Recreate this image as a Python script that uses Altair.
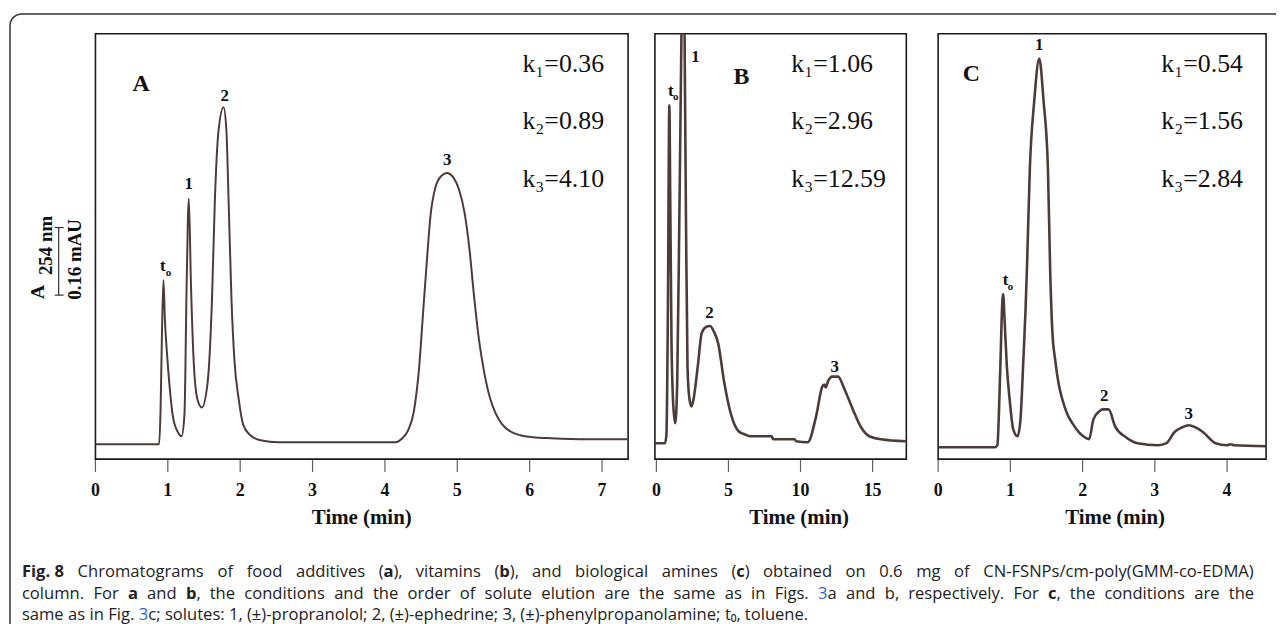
import altair as alt
import pandas as pd

SERIF = "Liberation Serif, Times New Roman, serif"
SANS = "Open Sans, Noto Sans, sans-serif"
INK = "#4b3c39"

# ---------------- data ----------------
# Panel A (food additives): time (min), detector signal (a.u.)
A_time = [0.00, 0.50, 0.88, 0.90, 0.92, 0.94, 0.96, 0.99, 1.02, 1.07, 1.14, 1.19,
          1.23, 1.26, 1.29, 1.32, 1.36, 1.41, 1.47,
          1.55, 1.61, 1.65, 1.70, 1.77, 1.81, 1.84, 1.88, 1.92, 1.98, 2.04, 2.14, 2.28, 2.53, 3.00, 3.60,
          4.15, 4.24, 4.32, 4.40, 4.47, 4.53, 4.58, 4.63, 4.70, 4.78, 4.86, 4.94, 5.02, 5.10, 5.17, 5.23,
          5.30, 5.37, 5.45, 5.53, 5.62, 5.73, 5.87, 6.05, 6.30, 6.80, 7.35]
A_signal = [15, 15, 15, 50, 130, 180, 140, 105, 77, 43, 27, 23,
            45, 175, 262, 175, 95, 60, 52,
            77, 160, 260, 330, 354, 330, 260, 160, 100, 60, 35, 24, 19, 17, 17, 17,
            17, 21, 29, 48, 90, 150, 200, 245, 274, 285, 288, 284, 272, 248, 210, 165,
            120, 88, 62, 46, 35, 28, 24, 22, 21, 20, 20]

# Panel B (vitamins)
B_time = [-0.10, 0.60, 0.70, 0.80, 0.90, 0.97, 1.05, 1.17, 1.31,
          1.45, 1.60, 1.75, 1.85, 1.95, 2.05, 2.16, 2.30, 2.44,
          2.60, 2.87, 3.15, 3.45, 3.72, 4.00, 4.28, 4.71, 5.14, 5.70, 6.12, 6.55, 8.00, 8.10, 9.60, 9.70, 10.50,
          11.08, 11.51, 11.65, 11.75, 11.90, 12.20, 12.60, 13.06, 13.63, 14.20, 14.77, 15.60, 17.30]
B_signal = [16, 16, 25, 150, 356, 250, 120, 55, 36,
            80, 250, 440, 600, 440, 250, 93, 60, 53,
            62, 93, 127, 133, 134, 128, 117, 77, 47, 28, 25, 23, 23, 20, 20, 18, 17,
            43, 73, 75, 72, 78, 83, 83, 70, 50, 32, 23, 20, 18]

# Panel C (biological amines)
C_time = [0.00, 0.50, 0.79, 0.82, 0.86, 0.89, 0.90, 0.92, 0.95, 0.99, 1.04, 1.10,
          1.14, 1.18, 1.21, 1.23, 1.27, 1.33, 1.40, 1.46, 1.52, 1.55, 1.58, 1.62, 1.67, 1.72, 1.79, 1.86, 1.95,
          2.03, 2.09,
          2.15, 2.23, 2.28, 2.36, 2.45, 2.60, 2.76, 3.05,
          3.16, 3.27, 3.38, 3.47, 3.56, 3.67, 3.84, 4.00, 4.05, 4.10, 4.54]
C_signal = [12, 12, 12, 14, 90, 160, 166, 140, 95, 60, 30, 23,
            40, 100, 150, 193, 293, 360, 403, 360, 293, 193, 130, 100, 75, 60, 45, 36, 27,
            22, 20,
            40, 48, 50, 50, 33, 22, 16, 14,
            16, 27, 32, 34, 32, 27, 16, 14, 15, 14, 13]

# axis ticks
A_ticks = [0, 1, 2, 3, 4, 5, 6, 7]
B_ticks = [0, 5, 10, 15]
C_ticks = [0, 1, 2, 3, 4]
X_title = "Time (min)"

# peak labels: (time, signal, text)
A_peaks = [(0.93, 194, "t"), (1.29, 277, "1"), (1.785, 365, "2"), (4.86, 301, "3")]
B_peaks = [(1.00, 370, "t"), (2.72, 405, "1"), (3.69, 147, "2"), (12.38, 93, "3")]
C_peaks = [(0.935, 180, "t"), (1.40, 417, "1"), (2.30, 63, "2"), (3.47, 45, "3")]
A_sub = [(1.01, 187, "o")]
B_sub = [(1.34, 364, "o")]
C_sub = [(1.00, 173, "o")]

# retention factors
A_k = ["k\u2081=0.36", "k\u2082=0.89", "k\u2083=4.10"]
B_k = ["k\u2081=1.06", "k\u2082=2.96", "k\u2083=12.59"]
C_k = ["k\u2081=0.54", "k\u2082=1.56", "k\u2083=2.84"]
K_levels = [398, 340, 282]
A_k_time, B_k_time, C_k_time = 5.90, 9.36, 3.09

# panel letters (time, signal)
A_letter = (0.63, 377, "A")
B_letter = (5.90, 384, "B")
C_letter = (0.46, 387, "C")

# where the axis titles sit along each time axis
A_title_t, B_title_t, C_title_t = 3.68, 9.9, 2.45

# caption runs: (text, style)  r = regular, b = bold, l = link (blue)
caption = [
    [("Fig.\u00a08", "b"), (" Chromatograms of food additives (", "r"), ("a", "b"), ("), vitamins (", "r"),
     ("b", "b"), ("), and biological amines (", "r"), ("c", "b"),
     (") obtained on 0.6 mg of CN-FSNPs/cm-poly(GMM-co-EDMA)", "r")],
    [("column. For ", "r"), ("a", "b"), (" and ", "r"), ("b", "b"),
     (", the conditions and the order of solute elution are the same as in Figs. ", "r"), ("3", "l"),
     ("a and b, respectively. For ", "r"), ("c", "b"), (", the conditions are the", "r")],
    [("same as in Fig. ", "r"), ("3", "l"),
     ("c; solutes: 1, (\u00b1)-propranolol; 2, (\u00b1)-ephedrine; 3, (\u00b1)-phenylpropanolamine; "
      "t\u2080, toluene.", "r")],
]

YMAX = 428

# ---------------- caption typesetting (justified like the figure) ----------------
CAP_SIZE = 16.7
_REG = {" ": 532, "(": 589, ")": 589, ",": 502, "-": 659, ".": 545, "/": 752, ":": 545, ";": 545,
        "\u00b1": 1171, "\u2080": 700,
        "A": 1296, "B": 1327, "C": 1292, "D": 1493, "E": 1139, "F": 1057, "G": 1491, "M": 1849,
        "N": 1544, "P": 1233, "S": 1124,
        "a": 1139, "b": 1255, "c": 975, "d": 1255, "e": 1149, "f": 694, "g": 1122, "h": 1257, "i": 518,
        "j": 518, "k": 1075, "l": 518, "m": 1905, "n": 1257, "o": 1237, "p": 1255, "q": 1255, "r": 836,
        "s": 977, "t": 723, "u": 1257, "v": 1026, "w": 1593, "x": 1073, "y": 1028, "z": 977}
_BOLD = {" ": 532, "\u00a0": 532, "F": 1140, "i": 631, "g": 1140, ".": 600, "8": 1171,
         "a": 1217, "b": 1296, "c": 1051}


def _w(s, style):
    tbl = _BOLD if style == "b" else _REG
    return sum(tbl.get(ch, 1171) for ch in s) / 2048 * CAP_SIZE


def typeset(lines, x0, x1, ys):
    rows = []
    for li, (runs, y) in enumerate(zip(lines, ys)):
        words, cur = [], []
        for text, style in runs:
            for ch in text:
                if ch == " ":
                    if cur:
                        words.append(cur)
                    cur = []
                elif cur and cur[-1][1] == style:
                    cur[-1][0] += ch
                else:
                    cur.append([ch, style])
        if cur:
            words.append(cur)
        widths = [sum(_w(t, s) for t, s in wd) for wd in words]
        last = li == len(lines) - 1
        gap = _w(" ", "r") if last else (x1 - x0 - sum(widths)) / (len(words) - 1)
        x = x0
        for wd, ww in zip(words, widths):
            xx = x
            for t, s in wd:
                rows.append({"px": xx, "py": y, "txt": t, "st": s})
                xx += _w(t, s)
            x += ww + gap
    return pd.DataFrame(rows)


def panel(time, signal, dom, rng, ticks, title_t, peaks, subs, ks, k_time, letter, lw, extra=()):
    xs = alt.Scale(domain=dom, range=rng, nice=False, zero=False)
    ys = alt.Scale(domain=[0, YMAX], nice=False, zero=False)

    def X(f):
        return alt.X(f, scale=xs, axis=None)

    def Y(f):
        return alt.Y(f, scale=ys, axis=None)

    df = pd.DataFrame({"t": time, "s": signal})
    frame = alt.Chart(pd.DataFrame({"x0": [dom[0]], "x1": [dom[1]], "y0": [0], "y1": [YMAX]})).mark_rect(
        fill="transparent", stroke="#1a1a1a", strokeWidth=1.6).encode(
        x=X("x0:Q"), x2="x1", y=Y("y0:Q"), y2="y1")
    trace = alt.Chart(df).mark_line(interpolate="monotone", color=INK, strokeWidth=lw, clip=True).encode(
        x=X("t:Q"), y=Y("s:Q"))
    td = pd.DataFrame({"v": ticks, "lab": [str(v) for v in ticks]})
    tick = alt.Chart(td).mark_rule(color="#5e5e5e", strokeWidth=1.2).encode(
        x=X("v:Q"), y=alt.value(429), y2=alt.value(441))
    tlab = alt.Chart(td).mark_text(font=SERIF, fontWeight="bold", fontSize=18, color="#111",
                                   baseline="middle").encode(
        x=X("v:Q"), y=alt.value(460), text="lab:N")
    ttl = alt.Chart(pd.DataFrame({"t": [title_t], "txt": [X_title]})).mark_text(
        font=SERIF, fontWeight="bold", fontSize=21, color="#111", baseline="middle").encode(
        x=X("t:Q"), y=alt.value(487), text="txt:N")
    pk = pd.DataFrame(peaks, columns=["t", "s", "txt"])
    plab = alt.Chart(pk).mark_text(font=SERIF, fontWeight="bold", fontSize=17, color="#111",
                                   baseline="middle").encode(x=X("t:Q"), y=Y("s:Q"), text="txt:N")
    sb = pd.DataFrame(subs, columns=["t", "s", "txt"])
    slab = alt.Chart(sb).mark_text(font=SERIF, fontWeight="bold", fontSize=11, color="#111",
                                   baseline="middle").encode(x=X("t:Q"), y=Y("s:Q"), text="txt:N")
    kd = pd.DataFrame({"t": [k_time] * 3, "s": K_levels, "txt": ks})
    klab = alt.Chart(kd).mark_text(font=SERIF, fontSize=26, color="#111", align="left",
                                   baseline="middle").encode(x=X("t:Q"), y=Y("s:Q"), text="txt:N")
    ld = pd.DataFrame([letter], columns=["t", "s", "txt"])
    llab = alt.Chart(ld).mark_text(font=SERIF, fontWeight="bold", fontSize=24, color="#111",
                                   baseline="middle").encode(x=X("t:Q"), y=Y("s:Q"), text="txt:N")
    return alt.layer(frame, trace, tick, tlab, ttl, plab, slab, klab, llab, *extra)


# y-label and 0.16 mAU scale bar of panel A
A_ys = alt.Scale(domain=[0, YMAX], nice=False, zero=False)
bar_df = pd.DataFrame({"lo": [165], "hi": [233]})
bar = alt.Chart(bar_df).mark_rule(color="#333", strokeWidth=1.2).encode(
    x=alt.value(51), y=alt.Y("lo:Q", scale=A_ys, axis=None), y2="hi")
bar_lo = alt.Chart(bar_df).mark_rule(color="#333", strokeWidth=1.2).encode(
    x=alt.value(47), x2=alt.value(56), y=alt.Y("lo:Q", scale=A_ys, axis=None))
bar_hi = alt.Chart(bar_df).mark_rule(color="#333", strokeWidth=1.2).encode(
    x=alt.value(47), x2=alt.value(56), y=alt.Y("hi:Q", scale=A_ys, axis=None))
ylab_df = pd.DataFrame({"txt": ["A", "254 nm", "0.16 mAU"]})
ylab_a = alt.Chart(ylab_df).transform_filter("datum.txt == 'A'").mark_text(
    font=SERIF, fontWeight="bold", fontSize=20, angle=270, color="#111", baseline="middle").encode(
    x=alt.value(30), y=alt.value(260), text="txt:N")
ylab_nm = alt.Chart(ylab_df).transform_filter("datum.txt == '254 nm'").mark_text(
    font=SERIF, fontWeight="bold", fontSize=19, angle=270, color="#111", baseline="middle").encode(
    x=alt.value(38), y=alt.value(213), text="txt:N")
ylab_mau = alt.Chart(ylab_df).transform_filter("datum.txt == '0.16 mAU'").mark_text(
    font=SERIF, fontWeight="bold", fontSize=19, angle=270, color="#111", baseline="middle").encode(
    x=alt.value(67), y=alt.value(227), text="txt:N")

pA = panel(A_time, A_signal, [0, 7.36], [88, 624], A_ticks, A_title_t, A_peaks, A_sub, A_k, A_k_time,
           A_letter, 2.0, extra=(bar, bar_lo, bar_hi, ylab_a, ylab_nm, ylab_mau))
pB = panel(B_time, B_signal, [-0.10, 17.34], [651, 904], B_ticks, B_title_t, B_peaks, B_sub, B_k, B_k_time,
           B_letter, 2.6)
pC = panel(C_time, C_signal, [0, 4.54], [936, 1266], C_ticks, C_title_t, C_peaks, C_sub, C_k, C_k_time,
           C_letter, 2.6)

# outer rounded border (cut by the page edges)
border = alt.Chart(pd.DataFrame({"a": [0]})).mark_rect(
    fill="transparent", stroke="#333", strokeWidth=1.5, cornerRadius=12).encode(
    x=alt.value(2), x2=alt.value(1320), y=alt.value(-20), y2=alt.value(700))

cap = typeset(caption, 14, 1254, [542, 563.5, 584.5])
cap_layers = []
for st, weight, color in [("r", "normal", "#222"), ("b", "bold", "#222"), ("l", "normal", "#2f5fd0")]:
    cap_layers.append(alt.Chart(cap[cap["st"] == st]).mark_text(
        font=SANS, fontSize=CAP_SIZE, fontWeight=weight, color=color, align="left",
        baseline="middle").encode(
        x=alt.X("px:Q", scale=None, axis=None), y=alt.Y("py:Q", scale=None, axis=None), text="txt:N"))

chart = alt.layer(border, pA, pB, pC, *cap_layers).resolve_scale(
    x="independent", y="independent").properties(
    width=1276, height=428, autosize="none",
    padding={"left": 0, "top": 24, "right": 0, "bottom": 164}).configure_view(stroke=None)

chart.save("out.html", embed_options={"renderer": "svg", "actions": False})
